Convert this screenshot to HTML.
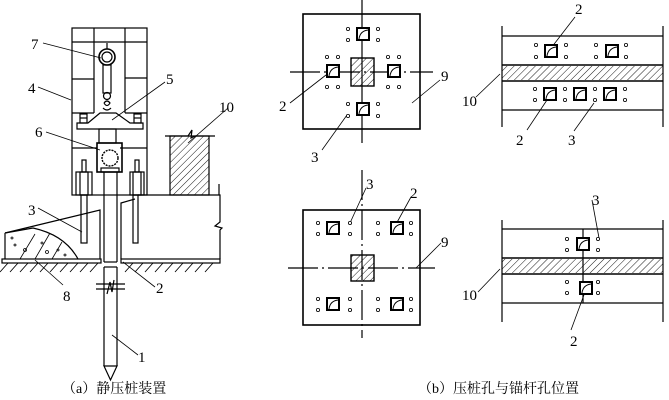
<!DOCTYPE html>
<html><head><meta charset="utf-8"><style>
html,body{margin:0;padding:0;background:#fff;}
svg{display:block;}
text{font-family:"Liberation Serif","Noto Serif CJK SC",serif;font-size:15px;fill:#000;}
.c{font-family:"Liberation Serif","Noto Serif CJK SC",serif;font-size:14px;}
</style></head><body>
<svg width="669" height="400" viewBox="0 0 669 400" xmlns="http://www.w3.org/2000/svg">
<defs>
<pattern id="h" width="5" height="5" patternUnits="userSpaceOnUse" patternTransform="rotate(45)">
<line x1="0" y1="0" x2="0" y2="5" stroke="#000" stroke-width="0.9"/></pattern>
<g id="sq"><rect x="0" y="0" width="12" height="12" fill="#fff" stroke="#000" stroke-width="2"/><path d="M2,11 Q3,3 11,2" fill="none" stroke="#000" stroke-width="1"/></g>
</defs>
<g stroke="#000" stroke-width="1.2" fill="none">
<rect x="72" y="28" width="75" height="167"/>
<line x1="94" y1="28" x2="94" y2="113"/><line x1="125" y1="28" x2="125" y2="113"/>
<line x1="72" y1="42" x2="147" y2="42"/>
<line x1="72" y1="79" x2="94" y2="79"/><line x1="125" y1="78" x2="147" y2="78"/>
<line x1="72" y1="113" x2="94" y2="113"/><line x1="125" y1="113" x2="147" y2="113"/>
<line x1="72" y1="148" x2="97" y2="148"/><line x1="120" y1="148" x2="147" y2="148"/>
<line x1="107" y1="43" x2="107" y2="49"/>
<circle cx="107" cy="57" r="8" stroke-width="1.6"/><circle cx="107" cy="57" r="5"/>
<rect x="103" y="65" width="8" height="28"/>
<circle cx="107" cy="96" r="3.5"/>
<path d="M104,103 q3,-4 6,0 q-3,5 -6,0 M103,108 q4,4 8,0"/>
<path d="M77,123 L88,123 L100,113 L116,113 L130,123 L143,123 L143,129 L77,129 Z" fill="#fff"/>
<rect x="80" y="114" width="7" height="9"/><line x1="80" y1="118" x2="87" y2="118"/>
<rect x="134" y="114" width="7" height="9"/><line x1="134" y1="118" x2="141" y2="118"/>
<rect x="99" y="129" width="17" height="14"/>
<rect x="97" y="143" width="25" height="29" stroke-width="1.6"/>
<circle cx="110" cy="158" r="8" stroke-width="1.4" stroke-dasharray="2 1"/>
<rect x="101" y="168" width="18" height="4"/>
<line x1="104" y1="172" x2="104" y2="262"/><line x1="117" y1="172" x2="117" y2="262"/>
<line x1="104" y1="267" x2="104" y2="366"/><line x1="117" y1="267" x2="117" y2="366"/>
<line x1="104" y1="262" x2="117" y2="262"/><line x1="104" y1="267" x2="117" y2="267"/>
<path d="M96,284 L125,284 M96,289 L125,289 M107,294 L110,282 L112,292 L114,280" />
<path d="M104,366 L117,366 L110.5,380 Z" fill="#fff"/>
<rect x="76" y="172" width="16" height="23"/><rect x="80" y="172" width="8" height="23"/><rect x="82" y="160" width="4" height="12"/>
<rect x="130" y="172" width="14" height="23"/><rect x="133" y="172" width="8" height="23"/><rect x="135" y="160" width="4" height="12"/>
<rect x="81" y="195" width="6" height="48"/><rect x="133" y="195" width="5" height="48"/>
<rect x="2" y="259" width="99" height="4"/><rect x="121" y="259" width="99" height="4"/>
<path d="M5,233 L100,210 L100,259 M121,259 L121,203 L135,199"/>
<path d="M5,233 L5,259 M5,233 L33,228 Q65,235 78,259" />
<g stroke-width="0.8"><path d="M20,259 L35,234 M35,259 L50,233 M52,259 L62,242"/>
<circle cx="15" cy="245" r="1"/><circle cx="25" cy="250" r="1.5"/><circle cx="42" cy="243" r="1"/><circle cx="47" cy="252" r="1.5"/><circle cx="58" cy="250" r="1"/><circle cx="65" cy="255" r="1"/><circle cx="12" cy="238" r="1"/></g>
<g stroke-width="0.9"><path d="M0,272 L8,263 M10,272 L18,263 M20,272 L28,263 M30,272 L38,263 M40,272 L48,263 M50,272 L58,263 M60,272 L68,263 M70,272 L78,263 M80,272 L88,263 M90,272 L98,263 M125,272 L133,263 M135,272 L143,263 M145,272 L153,263 M155,272 L163,263 M165,272 L173,263 M175,272 L183,263 M185,272 L193,263 M195,272 L203,263 M205,272 L213,263"/></g>
<path d="M138,195 L220,195 L220,222 L215,226 L222,228 L220,230 L220,259"/>
<line x1="219" y1="184" x2="219" y2="195"/>
<rect x="170" y="136" width="39" height="59" fill="url(#h)"/>
<path d="M165,136 L188,136 L192,130 L191,138 L195,136 L215,136"/>
<g stroke-width="0.8">
<line x1="43" y1="43" x2="101" y2="58"/><line x1="38" y1="87" x2="71" y2="100"/>
<line x1="165" y1="82" x2="112" y2="120"/><line x1="228" y1="108" x2="188" y2="143"/>
<line x1="46" y1="132" x2="100" y2="150"/><line x1="38" y1="208" x2="82" y2="232"/>
<line x1="63" y1="285" x2="35" y2="260"/><line x1="155" y1="287" x2="123" y2="262"/>
<line x1="138" y1="355" x2="112" y2="335"/></g>
<rect x="303" y="14" width="117" height="115" stroke-width="1.6"/>
<line x1="362" y1="0" x2="362" y2="143"/><line x1="290" y1="72" x2="433" y2="72" stroke-dasharray="30 4 2 4"/>
<rect x="351" y="58" width="23" height="28" fill="url(#h)" stroke-width="1.4"/>
<line x1="502" y1="26" x2="502" y2="127"/><line x1="663" y1="26" x2="663" y2="127"/>
<line x1="502" y1="36" x2="663" y2="36"/><line x1="502" y1="65" x2="663" y2="65" stroke-width="1.6"/>
<rect x="502" y="66" width="161" height="14" fill="url(#h)" stroke="none"/>
<line x1="502" y1="81" x2="663" y2="81" stroke-width="1.6"/><line x1="502" y1="110" x2="663" y2="110"/>
<rect x="303" y="210" width="117" height="115" stroke-width="1.6"/>
<line x1="362" y1="170" x2="362" y2="338" stroke-dasharray="30 4 2 4"/><line x1="288" y1="268" x2="435" y2="268" stroke-dasharray="30 4 2 4"/>
<rect x="351" y="255" width="23" height="26" fill="url(#h)" stroke-width="1.4"/>
<line x1="502" y1="220" x2="502" y2="322"/><line x1="663" y1="220" x2="663" y2="322"/>
<line x1="502" y1="229" x2="663" y2="229"/><line x1="502" y1="258" x2="663" y2="258" stroke-width="1.6"/>
<rect x="502" y="259" width="161" height="14" fill="url(#h)" stroke="none"/>
<line x1="502" y1="274" x2="663" y2="274" stroke-width="1.6"/><line x1="502" y1="303" x2="663" y2="303"/>
<line x1="583" y1="229" x2="583" y2="303"/>
<g stroke-width="0.8">
<line x1="290" y1="103" x2="326" y2="75"/><line x1="322" y1="150" x2="347" y2="115"/><line x1="440" y1="80" x2="412" y2="103"/>
<line x1="575" y1="17" x2="548" y2="52"/><line x1="476" y1="97" x2="500" y2="74"/><line x1="527" y1="130" x2="547" y2="100"/><line x1="574" y1="131" x2="594" y2="103"/>
<line x1="366" y1="188" x2="350" y2="223"/><line x1="411" y1="197" x2="395" y2="226"/><line x1="441" y1="243" x2="416" y2="268"/>
<line x1="592" y1="200" x2="599" y2="238"/><line x1="478" y1="292" x2="500" y2="269"/><line x1="571" y1="330" x2="588" y2="284"/>
</g>
</g>
<use href="#sq" x="357" y="28"/><use href="#sq" x="327" y="65"/><use href="#sq" x="388" y="65"/><use href="#sq" x="357" y="103"/>
<use href="#sq" x="545" y="45"/><use href="#sq" x="606" y="45"/>
<use href="#sq" x="544" y="88"/><use href="#sq" x="574" y="88"/><use href="#sq" x="604" y="88"/>
<use href="#sq" x="327" y="222"/><use href="#sq" x="391" y="222"/><use href="#sq" x="327" y="298"/><use href="#sq" x="391" y="298"/>
<use href="#sq" x="577" y="238"/><use href="#sq" x="580" y="282"/>
<g fill="#fff" stroke="#000" stroke-width="0.8">
<circle cx="348" cy="29" r="1.6"/><circle cx="348" cy="40" r="1.6"/><circle cx="378" cy="29" r="1.6"/><circle cx="378" cy="40" r="1.6"/>
<circle cx="348" cy="104" r="1.6"/><circle cx="348" cy="116" r="1.6"/><circle cx="378" cy="104" r="1.6"/><circle cx="378" cy="116" r="1.6"/>
<circle cx="327" cy="57" r="1.6"/><circle cx="338" cy="57" r="1.6"/><circle cx="327" cy="87" r="1.6"/><circle cx="338" cy="87" r="1.6"/>
<circle cx="388" cy="57" r="1.6"/><circle cx="399" cy="57" r="1.6"/><circle cx="388" cy="87" r="1.6"/><circle cx="399" cy="87" r="1.6"/>
<circle cx="536" cy="45" r="1.6"/><circle cx="536" cy="57" r="1.6"/><circle cx="566" cy="45" r="1.6"/><circle cx="566" cy="57" r="1.6"/>
<circle cx="596" cy="45" r="1.6"/><circle cx="596" cy="57" r="1.6"/><circle cx="626" cy="45" r="1.6"/><circle cx="626" cy="57" r="1.6"/>
<circle cx="535" cy="89" r="1.6"/><circle cx="535" cy="100" r="1.6"/><circle cx="565" cy="89" r="1.6"/><circle cx="565" cy="100" r="1.6"/>
<circle cx="595" cy="89" r="1.6"/><circle cx="595" cy="100" r="1.6"/><circle cx="625" cy="89" r="1.6"/><circle cx="625" cy="100" r="1.6"/>
<circle cx="318" cy="223" r="1.6"/><circle cx="318" cy="234" r="1.6"/><circle cx="350" cy="223" r="1.6"/><circle cx="350" cy="234" r="1.6"/>
<circle cx="378" cy="223" r="1.6"/><circle cx="378" cy="234" r="1.6"/><circle cx="411" cy="223" r="1.6"/><circle cx="411" cy="234" r="1.6"/>
<circle cx="318" cy="299" r="1.6"/><circle cx="318" cy="310" r="1.6"/><circle cx="350" cy="299" r="1.6"/><circle cx="350" cy="310" r="1.6"/>
<circle cx="378" cy="299" r="1.6"/><circle cx="378" cy="310" r="1.6"/><circle cx="411" cy="299" r="1.6"/><circle cx="411" cy="310" r="1.6"/>
<circle cx="567" cy="239" r="1.6"/><circle cx="567" cy="250" r="1.6"/><circle cx="598" cy="239" r="1.6"/><circle cx="598" cy="250" r="1.6"/>
<circle cx="567" cy="282" r="1.6"/><circle cx="567" cy="293" r="1.6"/><circle cx="598" cy="282" r="1.6"/><circle cx="598" cy="293" r="1.6"/>
</g>
<text x="31" y="49">7</text><text x="28" y="93">4</text><text x="166" y="84">5</text><text x="219" y="112">10</text>
<text x="35" y="137">6</text><text x="28" y="215">3</text><text x="63" y="301">8</text><text x="156" y="293">2</text><text x="138" y="362">1</text>
<text x="279" y="111">2</text><text x="311" y="162">3</text><text x="441" y="81">9</text>
<text x="575" y="14">2</text><text x="462" y="106">10</text><text x="516" y="145">2</text><text x="568" y="145">3</text>
<text x="366" y="189">3</text><text x="410" y="198">2</text><text x="441" y="247">9</text>
<text x="592" y="205">3</text><text x="462" y="300">10</text><text x="570" y="346">2</text>
<text class="c" x="62" y="393">（a）静压桩装置</text>
<text class="c" x="418" y="393">（b）压桩孔与锚杆孔位置</text>
</svg>
</body></html>
